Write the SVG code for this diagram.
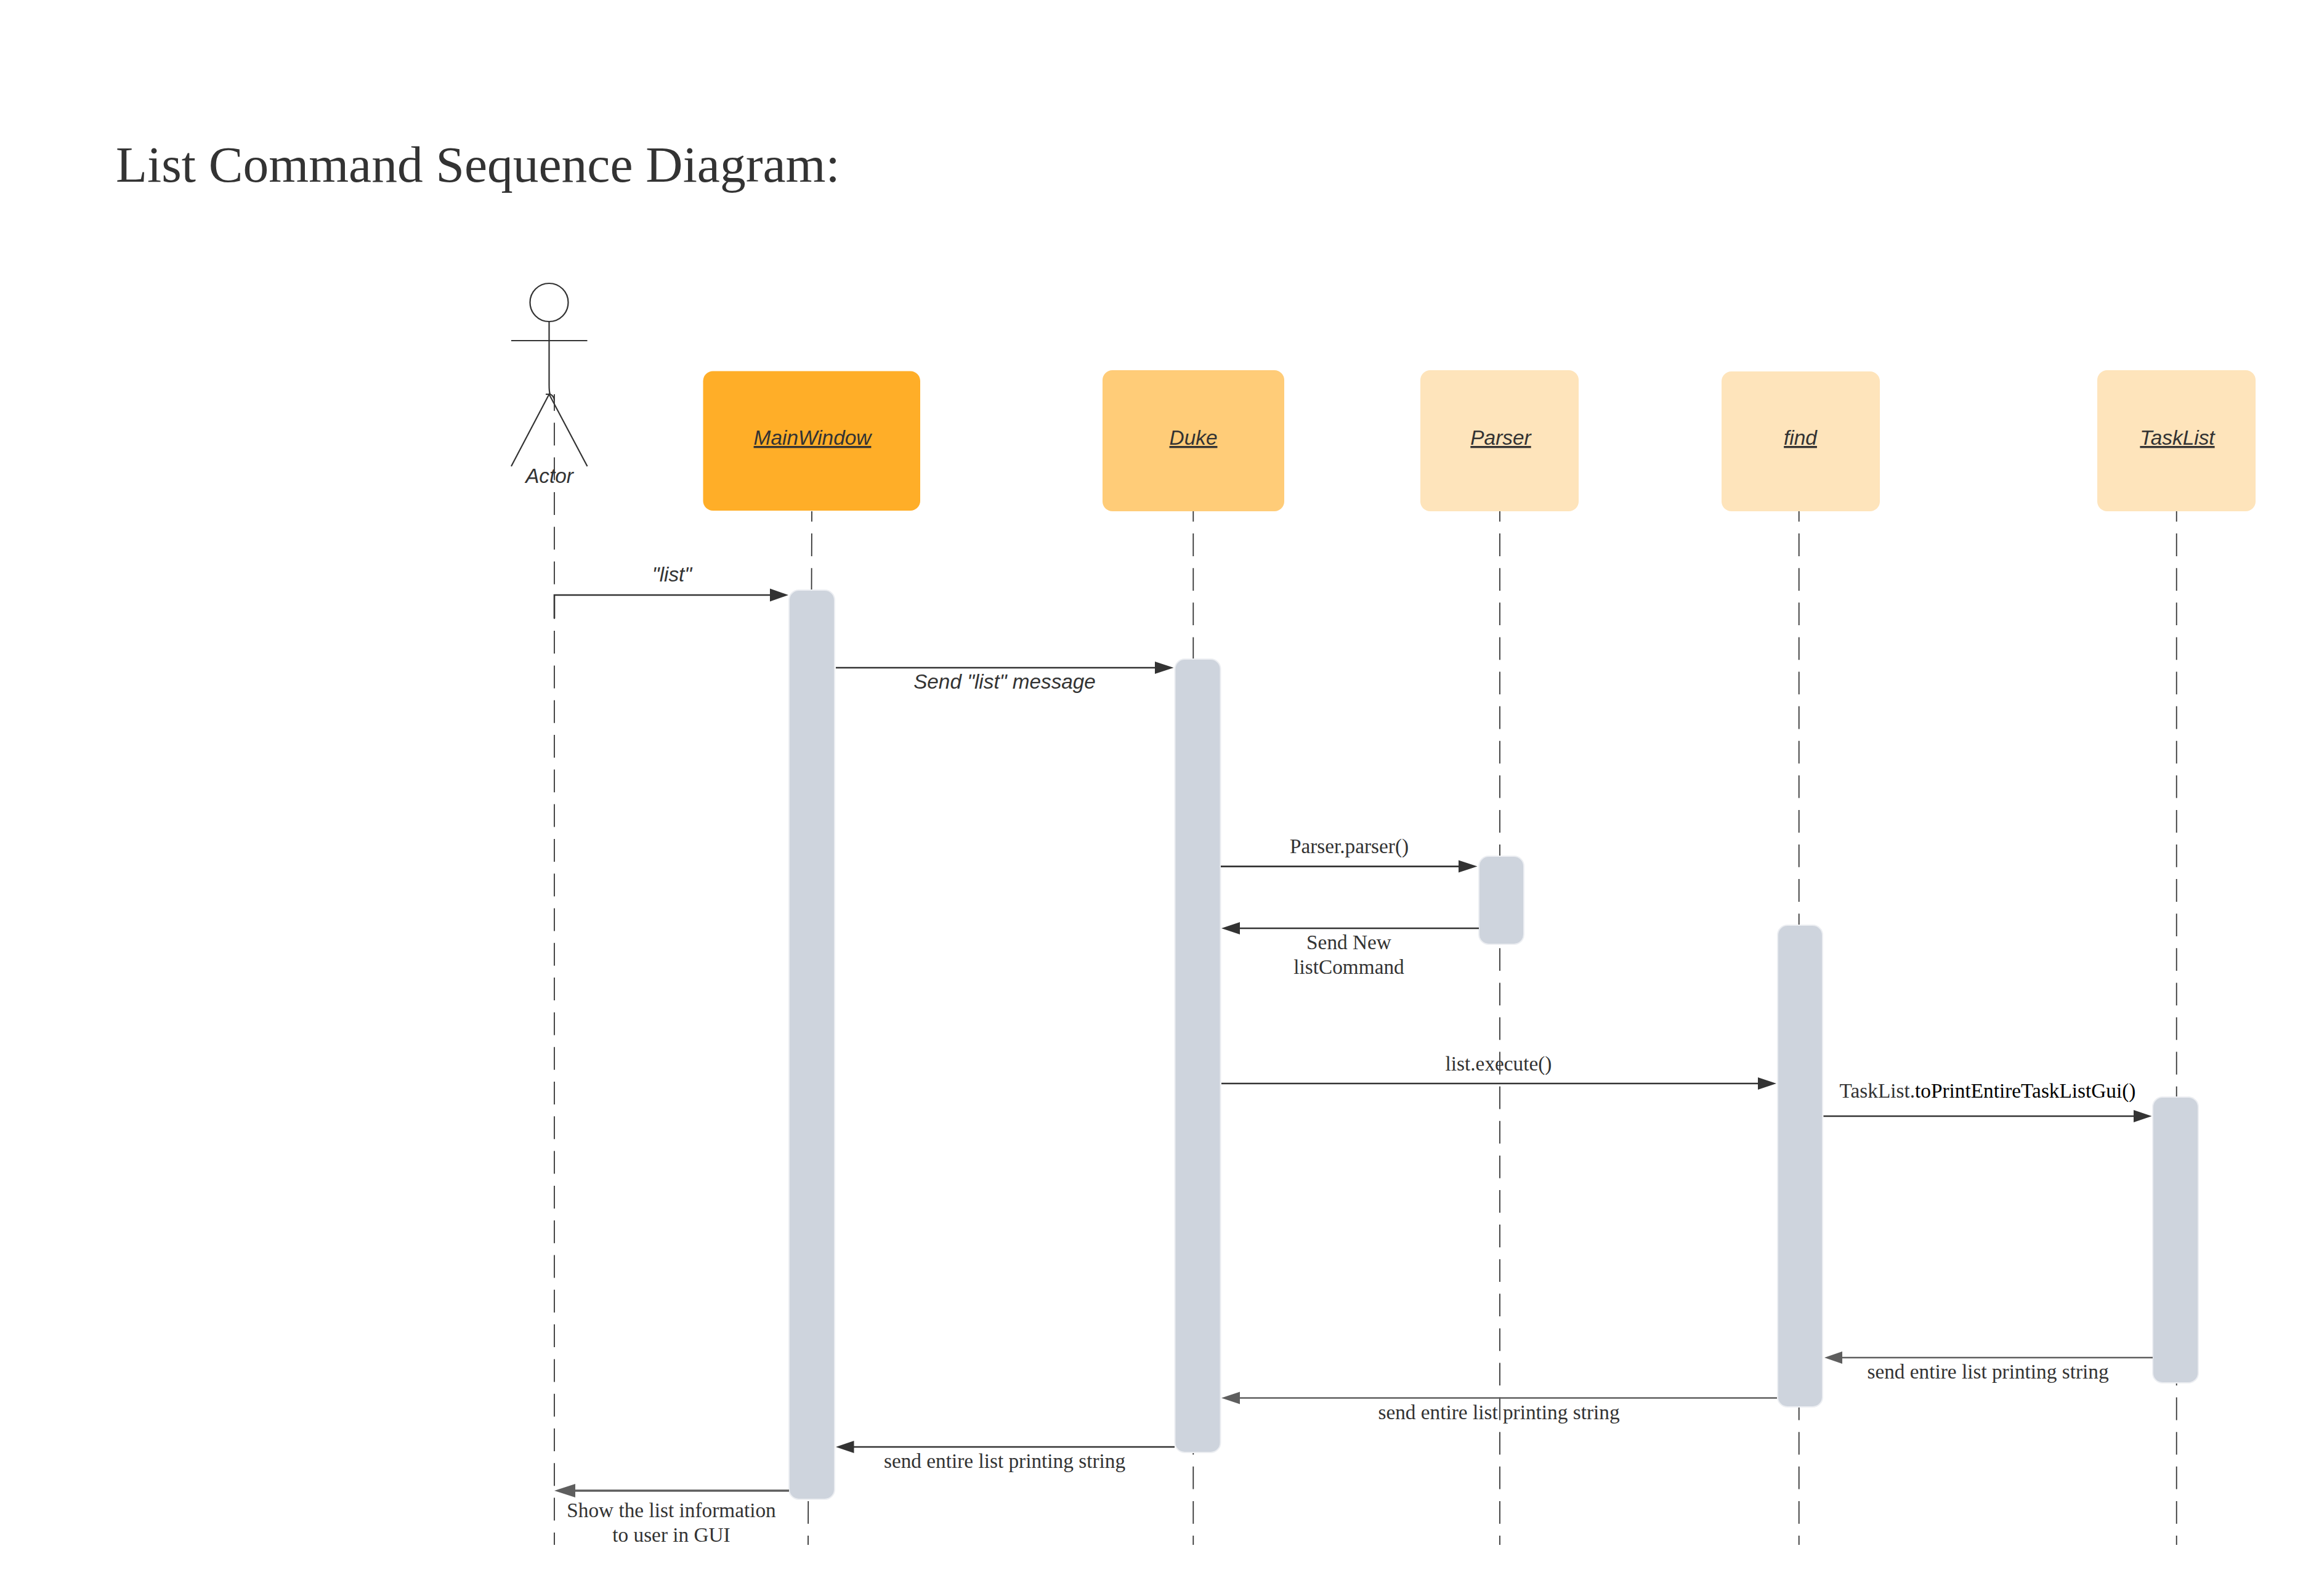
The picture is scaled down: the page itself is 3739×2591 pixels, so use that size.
<svg xmlns="http://www.w3.org/2000/svg" width="3739" height="2591" viewBox="0 0 3739 2591">
<style>
text{fill:#333;font-size:33.3px;text-anchor:middle}
.s{font-family:"Liberation Serif","Times New Roman",serif}
.a{font-family:"Liberation Sans",Arial,sans-serif;font-style:italic}
.u{text-decoration:underline;font-size:33.4px}
.life{stroke:#333;stroke-width:1.8;fill:none;stroke-dasharray:36.8 19.3}
.bar{fill:#ced4dd;stroke:#eceef2;stroke-width:2}
.msg{stroke:#333;stroke-width:2.6;fill:none}
.ret{stroke:#5e5e5e;stroke-width:2.6;fill:none}
.head{fill:#333}
.headg{fill:#5e5e5e}
.fig{stroke:#333;stroke-width:2.2;fill:none}
</style>
<rect width="3739" height="2591" fill="#fff"/>
<text id="title" class="s" x="188" y="294.5" style="font-size:83.5px;text-anchor:start">List Command Sequence Diagram:</text>
<g id="lifelines">
<path class="life" style="stroke-dasharray:37 19.3;stroke-dashoffset:10" d="M900 640V2508"/>
<path class="life" style="stroke-dashoffset:20" d="M1318 830L1312 2508"/>
<path class="life" style="stroke-dashoffset:20" d="M1937.3 830V2508"/>
<path class="life" style="stroke-dashoffset:20" d="M2435 830V2508"/>
<path class="life" style="stroke-dashoffset:20" d="M2920.7 830V2508"/>
<path class="life" style="stroke-dashoffset:20" d="M3533.7 830V2508"/>
</g>
<g id="actor">
<ellipse class="fig" cx="891.5" cy="491" rx="31" ry="31"/>
<path class="fig" d="M891.5 522V625Q891.5 636 893 640M830 553H953.5M830 757L891.5 640L953.5 757M886 640H893Q899 642 900 650"/>
<text class="a" x="892" y="783.5">Actor</text>
</g>
<g id="MainWindow"><rect x="1141.5" y="602.5" width="352.5" height="226.5" rx="16" fill="#ffae28"/><text class="a u" x="1319" y="722">MainWindow</text></g>
<g id="Duke"><rect x="1790" y="601" width="295" height="229" rx="16" fill="#ffcc78"/><text class="a u" x="1937.5" y="722">Duke</text></g>
<g id="Parser"><rect x="2306" y="601" width="257" height="229" rx="16" fill="#fee4bb"/><text class="a u" x="2436.5" y="722">Parser</text></g>
<g id="find"><rect x="2795" y="603" width="257" height="227" rx="16" fill="#fee4bb"/><text class="a u" x="2923" y="722">find</text></g>
<g id="TaskList"><rect x="3405" y="601" width="257" height="229" rx="16" fill="#fee4bb"/><text class="a u" x="3535" y="722">TaskList</text></g>
<g id="activation-main"><rect class="bar" x="1281" y="958" width="74" height="1476" rx="16"/></g>
<g id="activation-duke"><rect class="bar" x="1907.5" y="1070" width="74" height="1288" rx="16"/></g>
<g id="activation-parser"><rect class="bar" x="2401" y="1390" width="73" height="143" rx="16"/></g>
<g id="activation-find"><rect class="bar" x="2886" y="1502" width="73" height="782" rx="16"/></g>
<g id="activation-tasklist"><rect class="bar" x="3495" y="1781" width="74" height="464" rx="16"/></g>
<g id="connectors">
<path class="msg" d="M900 1004V966H1252"/><path class="head" d="M1280 966L1250 955.5V976.5Z"/>
<path class="msg" d="M1357 1084H1880"/><path class="head" d="M1905.5 1084L1875 1074V1094Z"/>
<path class="msg" d="M1982 1406.6H2372"/><path class="head" d="M2398.5 1406.6L2368 1396.6V1416.6Z"/>
<path class="msg" d="M2401 1507H2010"/><path class="head" d="M1983 1507L2013 1497V1517Z"/>
<path class="msg" d="M1983 1759H2858"/><path class="head" d="M2884 1759L2854 1749V1769Z"/>
<path class="msg" d="M2960.5 1812H3468"/><path class="head" d="M3493.5 1812L3464 1802V1822Z"/>
<path class="ret" d="M3495 2204H2988"/><path class="headg" d="M2962 2204L2991 2194V2214Z"/>
<path class="ret" d="M2885 2269.5H2010"/><path class="headg" d="M1983 2269.5L2013 2259.5V2279.5Z"/>
<path class="msg" d="M1907 2349H1384"/><path class="head" d="M1357 2349L1386.5 2339V2359Z"/>
<path class="ret" style="stroke-width:3.6" d="M1281 2420H930"/><path class="headg" d="M900 2420L934 2409V2431Z"/>
</g>
<g id="labels">
<text class="a" x="1091" y="944">"list"</text>
<text class="a" x="1631" y="1118">Send "list" message</text>
<text class="s" x="2190.5" y="1385">Parser.parser()</text>
<text class="s" x="2190" y="1540.5">Send New</text>
<text class="s" x="2190" y="1581">listCommand</text>
<text class="s" x="2433" y="1737.5">list.execute()</text>
<text class="s" x="3227" y="1782">TaskList.<tspan fill="#000">toPrintEntireTaskListGui()</tspan></text>
<text class="s" x="3227.5" y="2237.5">send entire list printing string</text>
<text class="s" x="2433.5" y="2304">send entire list printing string</text>
<text class="s" x="1631" y="2383">send entire list printing string</text>
<text class="s" x="1090" y="2463">Show the list information</text>
<text class="s" x="1090" y="2503">to user in GUI</text>
</g>
</svg>
